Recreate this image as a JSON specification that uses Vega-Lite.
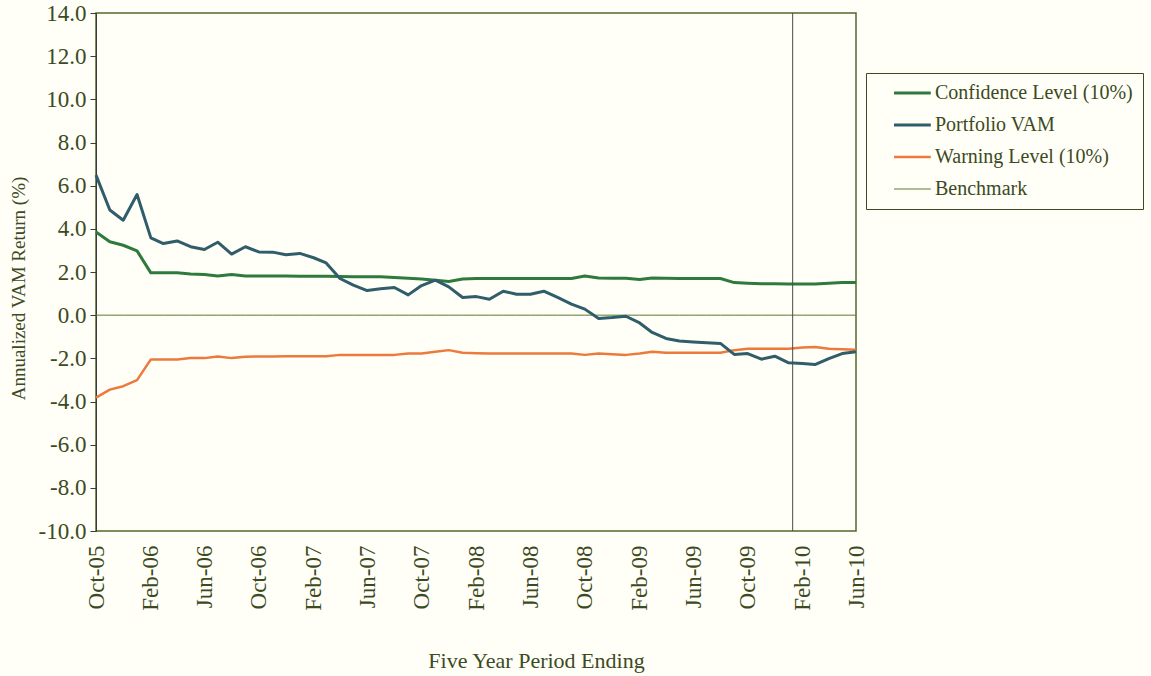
{
  "$schema": "https://vega.github.io/schema/vega-lite/v6.json",
  "width": 760,
  "height": 518,
  "autosize": {"type": "none"},
  "padding": {"left": 96, "top": 13, "right": 295, "bottom": 145},
  "background": "#fffff8",
  "config": {
    "font": "Liberation Serif",
    "view": {"stroke": "#4f6b2a", "strokeWidth": 1.5},
    "axis": {"labelColor": "#3c4a22", "titleColor": "#3c4a22", "grid": false, "titleFontWeight": "normal"}
  },
  "layer": [
    {
      "data": {
        "values": [
          {"d": "2005/10/01", "Confidence Level (10%)": 3.85, "Portfolio VAM": 6.49, "Warning Level (10%)": -3.82, "Benchmark": 0},
          {"d": "2005/11/01", "Confidence Level (10%)": 3.40, "Portfolio VAM": 4.87, "Warning Level (10%)": -3.45, "Benchmark": 0},
          {"d": "2005/12/01", "Confidence Level (10%)": 3.24, "Portfolio VAM": 4.40, "Warning Level (10%)": -3.29, "Benchmark": 0},
          {"d": "2006/01/01", "Confidence Level (10%)": 2.98, "Portfolio VAM": 5.59, "Warning Level (10%)": -3.01, "Benchmark": 0},
          {"d": "2006/02/01", "Confidence Level (10%)": 1.96, "Portfolio VAM": 3.58, "Warning Level (10%)": -2.05, "Benchmark": 0},
          {"d": "2006/03/01", "Confidence Level (10%)": 1.96, "Portfolio VAM": 3.32, "Warning Level (10%)": -2.05, "Benchmark": 0},
          {"d": "2006/04/01", "Confidence Level (10%)": 1.96, "Portfolio VAM": 3.44, "Warning Level (10%)": -2.05, "Benchmark": 0},
          {"d": "2006/05/01", "Confidence Level (10%)": 1.91, "Portfolio VAM": 3.17, "Warning Level (10%)": -1.99, "Benchmark": 0},
          {"d": "2006/06/01", "Confidence Level (10%)": 1.88, "Portfolio VAM": 3.04, "Warning Level (10%)": -1.99, "Benchmark": 0},
          {"d": "2006/07/01", "Confidence Level (10%)": 1.82, "Portfolio VAM": 3.38, "Warning Level (10%)": -1.91, "Benchmark": 0},
          {"d": "2006/08/01", "Confidence Level (10%)": 1.88, "Portfolio VAM": 2.83, "Warning Level (10%)": -1.99, "Benchmark": 0},
          {"d": "2006/09/01", "Confidence Level (10%)": 1.82, "Portfolio VAM": 3.17, "Warning Level (10%)": -1.93, "Benchmark": 0},
          {"d": "2006/10/01", "Confidence Level (10%)": 1.81, "Portfolio VAM": 2.93, "Warning Level (10%)": -1.91, "Benchmark": 0},
          {"d": "2006/11/01", "Confidence Level (10%)": 1.81, "Portfolio VAM": 2.92, "Warning Level (10%)": -1.91, "Benchmark": 0},
          {"d": "2006/12/01", "Confidence Level (10%)": 1.81, "Portfolio VAM": 2.80, "Warning Level (10%)": -1.90, "Benchmark": 0},
          {"d": "2007/01/01", "Confidence Level (10%)": 1.80, "Portfolio VAM": 2.86, "Warning Level (10%)": -1.90, "Benchmark": 0},
          {"d": "2007/02/01", "Confidence Level (10%)": 1.80, "Portfolio VAM": 2.66, "Warning Level (10%)": -1.90, "Benchmark": 0},
          {"d": "2007/03/01", "Confidence Level (10%)": 1.80, "Portfolio VAM": 2.42, "Warning Level (10%)": -1.90, "Benchmark": 0},
          {"d": "2007/04/01", "Confidence Level (10%)": 1.79, "Portfolio VAM": 1.70, "Warning Level (10%)": -1.84, "Benchmark": 0},
          {"d": "2007/05/01", "Confidence Level (10%)": 1.78, "Portfolio VAM": 1.39, "Warning Level (10%)": -1.84, "Benchmark": 0},
          {"d": "2007/06/01", "Confidence Level (10%)": 1.78, "Portfolio VAM": 1.14, "Warning Level (10%)": -1.84, "Benchmark": 0},
          {"d": "2007/07/01", "Confidence Level (10%)": 1.78, "Portfolio VAM": 1.22, "Warning Level (10%)": -1.84, "Benchmark": 0},
          {"d": "2007/08/01", "Confidence Level (10%)": 1.75, "Portfolio VAM": 1.28, "Warning Level (10%)": -1.84, "Benchmark": 0},
          {"d": "2007/09/01", "Confidence Level (10%)": 1.71, "Portfolio VAM": 0.94, "Warning Level (10%)": -1.78, "Benchmark": 0},
          {"d": "2007/10/01", "Confidence Level (10%)": 1.68, "Portfolio VAM": 1.37, "Warning Level (10%)": -1.78, "Benchmark": 0},
          {"d": "2007/11/01", "Confidence Level (10%)": 1.62, "Portfolio VAM": 1.62, "Warning Level (10%)": -1.70, "Benchmark": 0},
          {"d": "2007/12/01", "Confidence Level (10%)": 1.56, "Portfolio VAM": 1.31, "Warning Level (10%)": -1.62, "Benchmark": 0},
          {"d": "2008/01/01", "Confidence Level (10%)": 1.68, "Portfolio VAM": 0.82, "Warning Level (10%)": -1.74, "Benchmark": 0},
          {"d": "2008/02/01", "Confidence Level (10%)": 1.70, "Portfolio VAM": 0.86, "Warning Level (10%)": -1.76, "Benchmark": 0},
          {"d": "2008/03/01", "Confidence Level (10%)": 1.70, "Portfolio VAM": 0.74, "Warning Level (10%)": -1.78, "Benchmark": 0},
          {"d": "2008/04/01", "Confidence Level (10%)": 1.70, "Portfolio VAM": 1.11, "Warning Level (10%)": -1.78, "Benchmark": 0},
          {"d": "2008/05/01", "Confidence Level (10%)": 1.70, "Portfolio VAM": 0.97, "Warning Level (10%)": -1.78, "Benchmark": 0},
          {"d": "2008/06/01", "Confidence Level (10%)": 1.70, "Portfolio VAM": 0.97, "Warning Level (10%)": -1.78, "Benchmark": 0},
          {"d": "2008/07/01", "Confidence Level (10%)": 1.70, "Portfolio VAM": 1.11, "Warning Level (10%)": -1.78, "Benchmark": 0},
          {"d": "2008/08/01", "Confidence Level (10%)": 1.70, "Portfolio VAM": 0.82, "Warning Level (10%)": -1.78, "Benchmark": 0},
          {"d": "2008/09/01", "Confidence Level (10%)": 1.70, "Portfolio VAM": 0.51, "Warning Level (10%)": -1.78, "Benchmark": 0},
          {"d": "2008/10/01", "Confidence Level (10%)": 1.81, "Portfolio VAM": 0.28, "Warning Level (10%)": -1.84, "Benchmark": 0},
          {"d": "2008/11/01", "Confidence Level (10%)": 1.72, "Portfolio VAM": -0.15, "Warning Level (10%)": -1.78, "Benchmark": 0},
          {"d": "2008/12/01", "Confidence Level (10%)": 1.71, "Portfolio VAM": -0.11, "Warning Level (10%)": -1.81, "Benchmark": 0},
          {"d": "2009/01/01", "Confidence Level (10%)": 1.71, "Portfolio VAM": -0.05, "Warning Level (10%)": -1.84, "Benchmark": 0},
          {"d": "2009/02/01", "Confidence Level (10%)": 1.65, "Portfolio VAM": -0.36, "Warning Level (10%)": -1.78, "Benchmark": 0},
          {"d": "2009/03/01", "Confidence Level (10%)": 1.72, "Portfolio VAM": -0.80, "Warning Level (10%)": -1.70, "Benchmark": 0},
          {"d": "2009/04/01", "Confidence Level (10%)": 1.71, "Portfolio VAM": -1.08, "Warning Level (10%)": -1.74, "Benchmark": 0},
          {"d": "2009/05/01", "Confidence Level (10%)": 1.70, "Portfolio VAM": -1.20, "Warning Level (10%)": -1.74, "Benchmark": 0},
          {"d": "2009/06/01", "Confidence Level (10%)": 1.70, "Portfolio VAM": -1.24, "Warning Level (10%)": -1.74, "Benchmark": 0},
          {"d": "2009/07/01", "Confidence Level (10%)": 1.70, "Portfolio VAM": -1.28, "Warning Level (10%)": -1.74, "Benchmark": 0},
          {"d": "2009/08/01", "Confidence Level (10%)": 1.70, "Portfolio VAM": -1.31, "Warning Level (10%)": -1.74, "Benchmark": 0},
          {"d": "2009/09/01", "Confidence Level (10%)": 1.51, "Portfolio VAM": -1.82, "Warning Level (10%)": -1.62, "Benchmark": 0},
          {"d": "2009/10/01", "Confidence Level (10%)": 1.48, "Portfolio VAM": -1.78, "Warning Level (10%)": -1.56, "Benchmark": 0},
          {"d": "2009/11/01", "Confidence Level (10%)": 1.46, "Portfolio VAM": -2.04, "Warning Level (10%)": -1.56, "Benchmark": 0},
          {"d": "2009/12/01", "Confidence Level (10%)": 1.45, "Portfolio VAM": -1.90, "Warning Level (10%)": -1.56, "Benchmark": 0},
          {"d": "2010/01/01", "Confidence Level (10%)": 1.44, "Portfolio VAM": -2.21, "Warning Level (10%)": -1.56, "Benchmark": 0},
          {"d": "2010/02/01", "Confidence Level (10%)": 1.44, "Portfolio VAM": -2.24, "Warning Level (10%)": -1.50, "Benchmark": 0},
          {"d": "2010/03/01", "Confidence Level (10%)": 1.44, "Portfolio VAM": -2.29, "Warning Level (10%)": -1.47, "Benchmark": 0},
          {"d": "2010/04/01", "Confidence Level (10%)": 1.48, "Portfolio VAM": -2.01, "Warning Level (10%)": -1.56, "Benchmark": 0},
          {"d": "2010/05/01", "Confidence Level (10%)": 1.51, "Portfolio VAM": -1.78, "Warning Level (10%)": -1.58, "Benchmark": 0},
          {"d": "2010/06/01", "Confidence Level (10%)": 1.51, "Portfolio VAM": -1.70, "Warning Level (10%)": -1.60, "Benchmark": 0}
        ]
      },
      "transform": [
        {"fold": ["Benchmark", "Warning Level (10%)", "Confidence Level (10%)", "Portfolio VAM"], "as": ["series", "value"]}
      ],
      "mark": {"type": "line", "strokeJoin": "round"},
      "encoding": {
        "x": {
          "field": "d", "type": "temporal",
          "scale": {"domain": [{"year": 2005, "month": 10, "date": 1}, {"year": 2010, "month": 6, "date": 1}]},
          "axis": {
            "title": "Five Year Period Ending",
            "format": "%b-%y",
            "values": [
              {"year": 2005, "month": 10, "date": 1}, {"year": 2006, "month": 2, "date": 1}, {"year": 2006, "month": 6, "date": 1},
              {"year": 2006, "month": 10, "date": 1}, {"year": 2007, "month": 2, "date": 1}, {"year": 2007, "month": 6, "date": 1},
              {"year": 2007, "month": 10, "date": 1}, {"year": 2008, "month": 2, "date": 1}, {"year": 2008, "month": 6, "date": 1},
              {"year": 2008, "month": 10, "date": 1}, {"year": 2009, "month": 2, "date": 1}, {"year": 2009, "month": 6, "date": 1},
              {"year": 2009, "month": 10, "date": 1}, {"year": 2010, "month": 2, "date": 1}, {"year": 2010, "month": 6, "date": 1}
            ],
            "labelAngle": 270, "labelAlign": "right", "labelBaseline": "middle",
            "labelFontSize": 23, "labelPadding": 14, "ticks": false, "domain": false,
            "labelOverlap": false, "labelBound": false, "labelFlush": false,
            "titleFontSize": 22, "titleX": 440, "titleY": 129, "titleAlign": "center", "titleBaseline": "middle"
          }
        },
        "y": {
          "field": "value", "type": "quantitative",
          "scale": {"domain": [-10, 14], "nice": false},
          "axis": {
            "title": "Annualized VAM Return (%)",
            "values": [-10, -8, -6, -4, -2, 0, 2, 4, 6, 8, 10, 12, 14],
            "labelExpr": "replace(format(datum.value, '.1f'), '\u2212', '-')",
            "labelFontSize": 23, "labelPadding": 4,
            "tickSize": 6, "tickColor": "#3a3a3a", "domainColor": "#3a3a3a",
            "labelOverlap": false, "labelBound": false, "labelFlush": false,
            "titleFontSize": 19, "titlePadding": 10, "titleY": 275
          }
        },
        "color": {
          "field": "series", "type": "nominal",
          "scale": {
            "domain": ["Confidence Level (10%)", "Portfolio VAM", "Warning Level (10%)", "Benchmark"],
            "range": ["#2e7a3c", "#2f5d6a", "#ec7a3c", "#5a7a30"]
          },
          "legend": {
            "title": null, "orient": "none", "legendX": 770, "legendY": 60,
            "symbolType": "M1.0,0H5.6", "symbolSize": 256,
            "labelFontSize": 20, "labelColor": "#3c4a22", "labelOffset": 39, "labelLimit": 400,
            "rowPadding": 12, "padding": 10,
            "strokeColor": "#3c4a22", "fillColor": "#fffff8"
          }
        },
        "strokeWidth": {
          "field": "series", "type": "nominal",
          "scale": {"type": "ordinal", "domain": ["Confidence Level (10%)", "Portfolio VAM", "Warning Level (10%)", "Benchmark"], "range": [3, 3, 2.5, 1]},
          "legend": null
        }
      }
    },
    {
      "data": {"values": [{"d": "2010/01/10"}]},
      "mark": {"type": "rule", "color": "#4a4a4a", "strokeWidth": 1},
      "encoding": {"x": {"field": "d", "type": "temporal"}}
    }
  ]
}
